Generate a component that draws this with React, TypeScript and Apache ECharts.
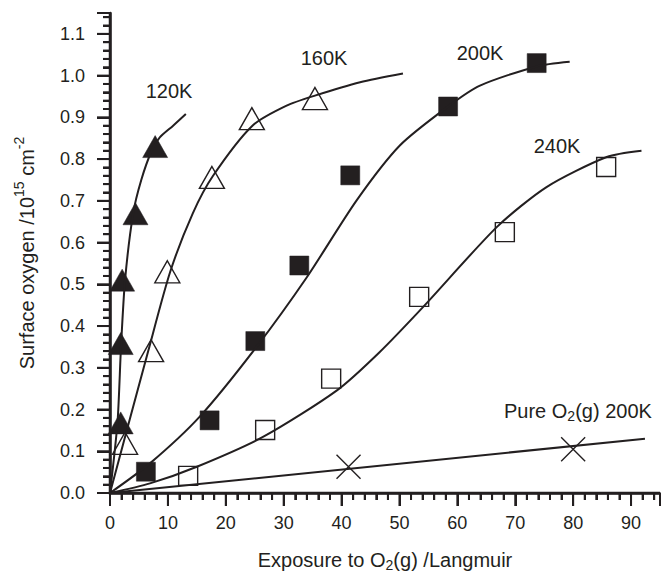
import React, { useEffect, useRef } from "react";
import * as echarts from "echarts";

// ---- data ----
const xTickValues = [0, 10, 20, 30, 40, 50, 60, 70, 80, 90];
const yTickValues = [0, 0.1, 0.2, 0.3, 0.4, 0.5, 0.6, 0.7, 0.8, 0.9, 1.0, 1.1];
const X_MAX = 95;
const Y_MAX = 1.15;
const X_MINOR_STEP = 2;
const Y_MINOR_STEP = 0.02;

const t120X = [1.85, 1.85, 2.1, 4.4, 7.8];
const t120Y = [0.168, 0.358, 0.51, 0.669, 0.83];
const fit120X = [0, 1.3, 1.9, 2.6, 4.0, 5.4, 7.2, 8.6, 10.9, 13.1];
const fit120Y = [0, 0.17, 0.35, 0.51, 0.67, 0.75, 0.82, 0.852, 0.88, 0.908];

const t160X = [2.6, 7.1, 9.9, 17.6, 24.5, 35.4];
const t160Y = [0.119, 0.341, 0.53, 0.756, 0.897, 0.945];
const fit160X = [0, 6.6, 10.4, 14.3, 17.8, 24.6, 30.5, 35.4, 43.2, 50.6];
const fit160Y = [0, 0.34, 0.53, 0.67, 0.76, 0.88, 0.928, 0.952, 0.984, 1.005];

const t200X = [6.2, 17.2, 25.1, 32.7, 41.5, 58.4, 73.7];
const t200Y = [0.051, 0.174, 0.364, 0.545, 0.761, 0.926, 1.03];
const fit200X = [0, 6.9, 15.5, 25.3, 34, 42.6, 50.1, 58.4, 63.9, 73.7, 79.4];
const fit200Y = [0, 0.071, 0.183, 0.35, 0.517, 0.701, 0.833, 0.926, 0.976, 1.022, 1.033];

const t240X = [13.5, 26.8, 38.2, 53.4, 68.2, 85.7];
const t240Y = [0.041, 0.151, 0.274, 0.47, 0.625, 0.781];
const fit240X = [0, 6.9, 15, 26.5, 39.2, 46.6, 54.1, 66.8, 75.4, 85.8, 91.8];
const fit240Y = [0, 0.023, 0.063, 0.135, 0.246, 0.338, 0.446, 0.637, 0.733, 0.805, 0.82];

const o2X = [41.2, 80.0];
const o2Y = [0.063, 0.105];
const fitO2X = [0, 92.4];
const fitO2Y = [0, 0.13];

const INK = "#231f20";
const FONT = "'Liberation Sans', Arial, Helvetica, sans-serif";

const zip = (xs: number[], ys: number[]) => xs.map((x, i) => [x, ys[i]]);

function lineSeries(xs: number[], ys: number[]) {
  return {
    type: "line",
    data: zip(xs, ys),
    smooth: 0.25,
    showSymbol: false,
    symbol: "none",
    lineStyle: { color: INK, width: 2 },
    silent: true,
  };
}

function markerSeries(xs: number[], ys: number[], symbol: string, size: any, filled: boolean) {
  return {
    type: "scatter",
    data: zip(xs, ys),
    symbol,
    symbolSize: size,
    itemStyle: filled
      ? { color: INK, borderColor: INK, borderWidth: 0.5, opacity: 1 }
      : { color: "rgba(0,0,0,0)", borderColor: INK, borderWidth: 1.4, opacity: 1 },
    silent: true,
  };
}

function axisParts() {
  return {
    splitLine: { show: false },
    axisLine: { show: true, onZero: false, lineStyle: { color: INK, width: 2.5 } },
    axisTick: { show: true, inside: false, length: 13, lineStyle: { color: INK, width: 2 } },
    minorTick: { show: true, splitNumber: 5, length: 7, lineStyle: { color: INK, width: 2 } },
  };
}

// Axis frame drawn as a custom series (filled rects), positioned via api.coord.
const axisFrameSeries = {
  type: "custom",
  data: [[0, 0]],
  silent: true,
  clip: false,
  z: 10,
  renderItem: (_params: any, api: any) => {
    const c = (x: number, y: number) => api.coord([x, y]);
    const [ox, oy] = c(0, 0);
    const xEnd = c(X_MAX, 0)[0];
    const yEnd = c(0, Y_MAX)[1];
    const children: any[] = [];
    const rect = (x: number, y: number, w: number, h: number) => ({
      type: "rect",
      shape: { x, y, width: w, height: h },
      style: { fill: INK },
    });
    children.push(rect(ox - 1.25, oy - 1.25, xEnd - ox + 1.25, 2.5));
    children.push(rect(ox - 1.25, yEnd, 2.5, oy - yEnd + 1.25));
    xTickValues.forEach((v) => {
      const px = c(v, 0)[0];
      children.push(rect(px - 1, oy, 2, 13));
      for (let k = 1; k < 5; k++) {
        const mv = v + k * X_MINOR_STEP;
        if (mv < X_MAX) {
          const mx = c(mv, 0)[0];
          children.push(rect(mx - 1, oy, 2, 7));
        }
      }
    });
    yTickValues.forEach((v) => {
      const py = c(0, v)[1];
      children.push(rect(ox - 13, py - 1, 13, 2));
      for (let k = 1; k < 5; k++) {
        const mv = v + k * Y_MINOR_STEP;
        if (mv < Y_MAX - 1e-9) {
          const my = c(0, mv)[1];
          children.push(rect(ox - 7, my - 1, 7, 2));
        }
      }
    });
    return { type: "group", children };
  },
};

function textEl(text: string, x: number, y: number) {
  return {
    type: "text",
    x,
    y,
    z: 60,
    silent: true,
    style: { text, fontSize: 20, fontFamily: FONT, fill: INK, align: "center", verticalAlign: "middle" },
  };
}

export default function App() {
  const ref = useRef<HTMLDivElement>(null);
  useEffect(() => {
    if (!ref.current) return;
    const chart = echarts.init(ref.current, undefined, { renderer: "svg" });
    chart.setOption({
      animation: false,
      backgroundColor: "#fff",
      textStyle: { fontFamily: FONT },
      grid: { left: 110, right: 1, top: 13, bottom: 79, containLabel: false, outerBoundsMode: "none" },
      xAxis: {
        type: "value",
        min: 0,
        max: X_MAX,
        interval: 10,
        ...axisParts(),
        axisLabel: {
          customValues: xTickValues,
          margin: 21,
          fontSize: 18,
          color: INK,
          fontFamily: FONT,
        },
        name: "{n|Exposure to O}{s|2}{n|(g) /Langmuir}",
        nameLocation: "middle",
        nameGap: 55,
        nameTextStyle: {
          rich: {
            n: { fontSize: 20, fontFamily: FONT, color: INK, lineHeight: 24, verticalAlign: "middle" },
            s: { fontSize: 14, fontFamily: FONT, color: INK, lineHeight: 6, verticalAlign: "bottom" },
          },
        },
      },
      yAxis: {
        type: "value",
        min: 0,
        max: Y_MAX,
        interval: 0.1,
        ...axisParts(),
        axisLabel: {
          customValues: yTickValues,
          margin: 25,
          fontSize: 18,
          color: INK,
          fontFamily: FONT,
          formatter: (v: number) => v.toFixed(1),
        },
        name: "{n|Surface oxygen /10}{s|15}{n| cm}{s|-2}",
        nameLocation: "middle",
        nameGap: 68,
        nameTextStyle: {
          rich: {
            n: { fontSize: 20, fontFamily: FONT, color: INK, lineHeight: 30, verticalAlign: "middle" },
            s: { fontSize: 14, fontFamily: FONT, color: INK, lineHeight: 14, verticalAlign: "top" },
          },
        },
      },
      graphic: [
        textEl("120K", 169, 91),
        textEl("160K", 324, 58),
        textEl("200K", 480, 53),
        textEl("240K", 557, 146),
        {
          type: "text",
          x: 504,
          y: 411,
          z: 60,
          silent: true,
          style: {
            text: "{n|Pure O}{s|2}{n|(g) 200K}",
            align: "left",
            verticalAlign: "middle",
            rich: {
              n: { fontSize: 20, fontFamily: FONT, fill: INK, lineHeight: 24, verticalAlign: "middle" },
              s: { fontSize: 14, fontFamily: FONT, fill: INK, lineHeight: 6, verticalAlign: "bottom" },
            },
          },
        },
      ],
      series: [
        axisFrameSeries,
        lineSeries(fit120X, fit120Y),
        lineSeries(fit160X, fit160Y),
        lineSeries(fit200X, fit200Y),
        lineSeries(fit240X, fit240Y),
        lineSeries(fitO2X, fitO2Y),
        markerSeries(t120X, t120Y, "triangle", [25, 22], true),
        markerSeries(t160X, t160Y, "triangle", [25, 22], false),
        markerSeries(t200X, t200Y, "rect", 19, true),
        markerSeries(t240X, t240Y, "rect", 19, false),
        markerSeries(o2X, o2Y, "path://M0 0L10 10M10 0L0 10", 24, false),
      ],
    });
    return () => chart.dispose();
  }, []);
  return (
    <div
      ref={ref}
      style={{ position: "absolute", left: 0, top: 0, width: 661, height: 572, background: "#fff" }}
    />
  );
}
